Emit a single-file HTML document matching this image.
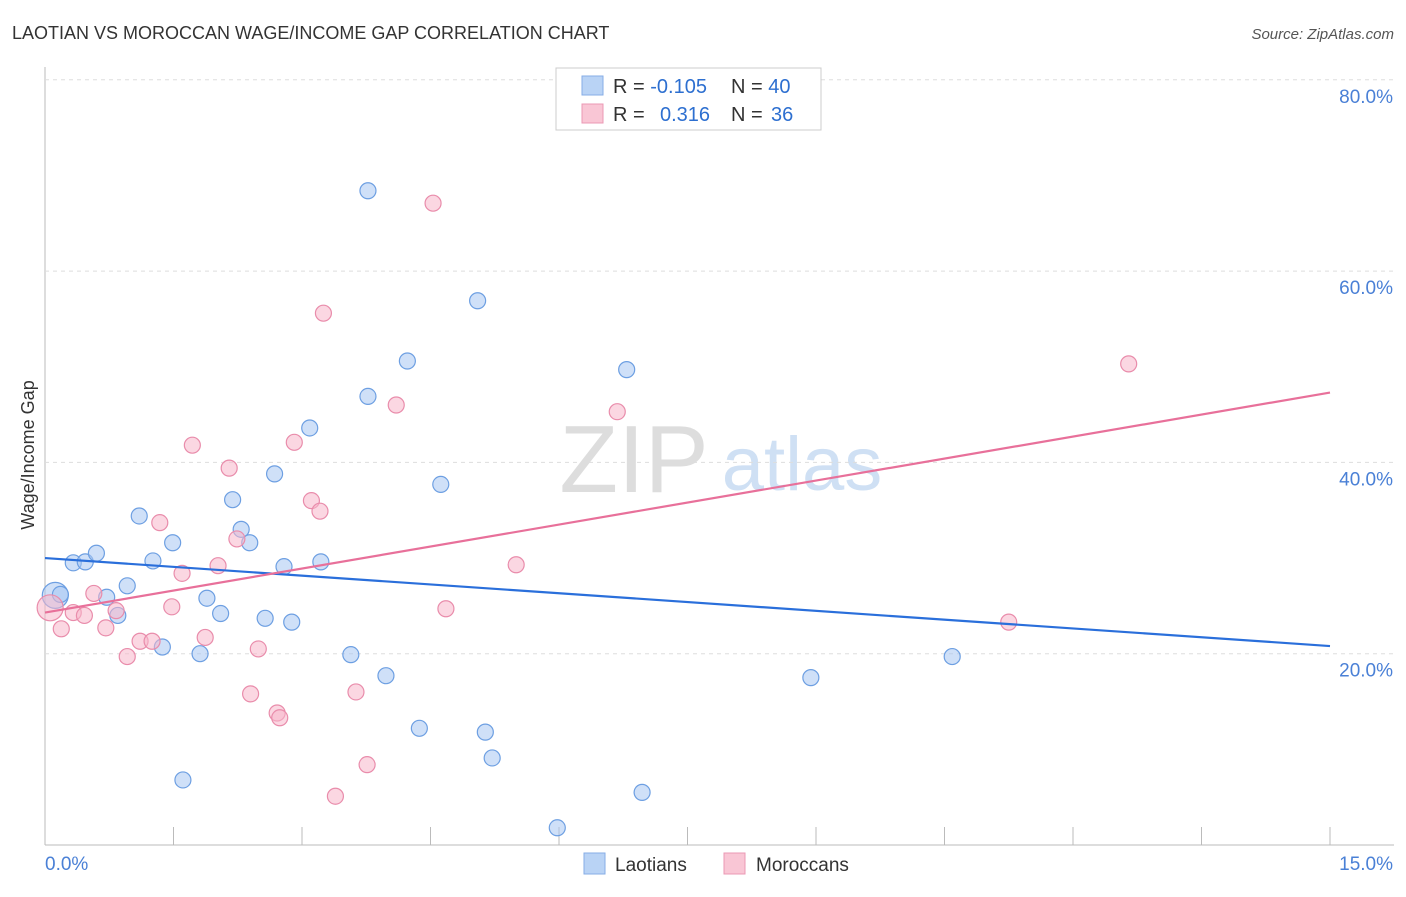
<!DOCTYPE html>
<html><head><meta charset="utf-8"><style>
body{margin:0;background:#fff;font-family:"Liberation Sans",sans-serif;}
svg text{font-family:"Liberation Sans",sans-serif;}
</style></head><body>
<svg id="chart" width="1406" height="892">
<text x="12" y="39" font-size="18" fill="#333">LAOTIAN VS MOROCCAN WAGE/INCOME GAP CORRELATION CHART</text>
<text x="1394" y="39" font-size="15" fill="#555" text-anchor="end" font-style="italic">Source: ZipAtlas.com</text>
<text x="634" y="492" font-size="96" fill="#ddd" font-family="Liberation Serif" text-anchor="middle">ZIP</text>
<text x="802" y="490" font-size="76" fill="#cfe0f4" text-anchor="middle">atlas</text>
<text transform="translate(34,455) rotate(-90)" font-size="18" fill="#333" text-anchor="middle">Wage/Income Gap</text>
<g id="grid"></g><g id="ticks"></g><g id="pts"></g><g id="lines"></g>
<g>
<rect x="556" y="68" width="265" height="62" fill="#fff" stroke="#ccc"/>
<rect x="582" y="76" width="21" height="19" fill="#b9d3f5" stroke="#86ade6"/>
<rect x="582" y="104" width="21" height="19" fill="#f9c6d5" stroke="#eb98b4"/>
<text x="613" y="93" font-size="20" fill="#333">R = <tspan fill="#2d6fd0">-0.105</tspan><tspan x="731">N = </tspan><tspan fill="#2d6fd0">40</tspan></text>
<text x="613" y="121" font-size="20" fill="#333">R = <tspan x="660" fill="#2d6fd0">0.316</tspan><tspan x="731">N = </tspan><tspan x="771" fill="#2d6fd0">36</tspan></text>
</g>
<g>
<rect x="584" y="853" width="21" height="21" fill="#b9d3f5" stroke="#86ade6"/>
<text x="615" y="871" font-size="19" fill="#333">Laotians</text>
<rect x="724" y="853" width="21" height="21" fill="#f9c6d5" stroke="#eb98b4"/>
<text x="756" y="871" font-size="19" fill="#333">Moroccans</text>
</g>
</svg>
<script>
const blueX=[0.12,0.18,0.33,0.47,0.60,0.72,0.85,0.96,1.10,1.26,1.37,1.49,1.61,1.81,1.89,2.05,2.19,2.29,2.39,2.57,2.68,2.79,2.88,3.09,3.22,3.57,3.77,3.77,3.98,4.23,4.37,4.62,5.05,5.14,5.22,5.98,6.79,6.97,8.94,10.59];
const blueY=[26.1,26.2,29.5,29.6,30.5,25.9,24.0,27.1,34.4,29.7,20.7,31.6,6.8,20.0,25.8,24.2,36.1,33.0,31.6,23.7,38.8,29.1,23.3,43.6,29.6,19.9,46.9,68.4,17.7,50.6,12.2,37.7,56.9,11.8,9.1,1.8,49.7,5.5,17.5,19.7];
const pinkX=[0.06,0.19,0.33,0.46,0.57,0.71,0.83,0.96,1.11,1.25,1.34,1.48,1.60,1.72,1.87,2.02,2.15,2.24,2.40,2.49,2.71,2.74,2.91,3.11,3.21,3.25,3.39,3.63,3.76,4.10,4.53,4.68,5.50,6.68,11.25,12.65];
const pinkY=[24.8,22.6,24.3,24.0,26.3,22.7,24.5,19.7,21.3,21.3,33.7,24.9,28.4,41.8,21.7,29.2,39.4,32.0,15.8,20.5,13.8,13.3,42.1,36.0,34.9,55.6,5.1,16.0,8.4,46.0,67.1,24.7,29.3,45.3,23.3,50.3];
const blueTrend=[30.0,20.8];
const pinkTrend=[24.3,47.3];
const trendX=[0,15];
const yTicks=[20,40,60,80];
const yTickLabels=["20.0%","40.0%","60.0%","80.0%"];
const xTicks=[0,1.5,3,4.5,6,7.5,9,10.5,12,13.5,15];
const xTickLabels=["0.0%","15.0%"];

const NS="http://www.w3.org/2000/svg";
const sx=v=>45+v/15*1285;
const sy=v=>845-v/20*191.3;
function mk(tag,attrs,parent){const e=document.createElementNS(NS,tag);for(const k in attrs)e.setAttribute(k,attrs[k]);document.getElementById(parent).appendChild(e);return e;}
const ax=mk('line',{x1:45,y1:67,x2:45,y2:845,stroke:'#bbb'},'grid');


const bx=mk('line',{x1:45,y1:845,x2:1394,y2:845,stroke:'#bbb'},'grid');


yTicks.forEach((t,i)=>{
 const g=mk('line',{x1:45,y1:sy(t),x2:1394,y2:sy(t),stroke:'#ddd','stroke-dasharray':'4,4'},'grid');
 
 
 const l=mk('text',{x:1393,y:sy(t)+23,'font-size':19,fill:'#4a80d6','text-anchor':'end'},'grid');
 l.textContent=yTickLabels[i];
 
 
});
xTicks.forEach(t=>{
 const l=mk('line',{x1:sx(t),y1:827,x2:sx(t),y2:845,stroke:'#bbb'},'ticks');
 
 
});
const xl0=mk('text',{x:45,y:870,'font-size':19,fill:'#4a80d6'},'ticks');
xl0.textContent=xTickLabels[0];


const xl1=mk('text',{x:1393,y:870,'font-size':19,fill:'#4a80d6','text-anchor':'end'},'ticks');
xl1.textContent=xTickLabels[1];


function pts(X,Y,fill,stroke,name){
 X.forEach((x,i)=>{
  const r=i===0?13:8;
  const c=mk('circle',{cx:sx(x),cy:sy(Y[i]),r:r,fill:fill,'fill-opacity':0.55,stroke:stroke,'stroke-width':1.2},'pts');
  
  
 });
}
pts(blueX,blueY,'#a8c7f2','#6d9fe2','laotian-point');
pts(pinkX,pinkY,'#f7b6ca','#e98cab','moroccan-point');
const bl=mk('line',{x1:sx(trendX[0]),y1:sy(blueTrend[0]),x2:sx(trendX[1]),y2:sy(blueTrend[1]),stroke:'#2a6fdb','stroke-width':2.2},'lines');


const pl=mk('line',{x1:sx(trendX[0]),y1:sy(pinkTrend[0]),x2:sx(trendX[1]),y2:sy(pinkTrend[1]),stroke:'#e8709a','stroke-width':2.2},'lines');


</script>
</body></html>
